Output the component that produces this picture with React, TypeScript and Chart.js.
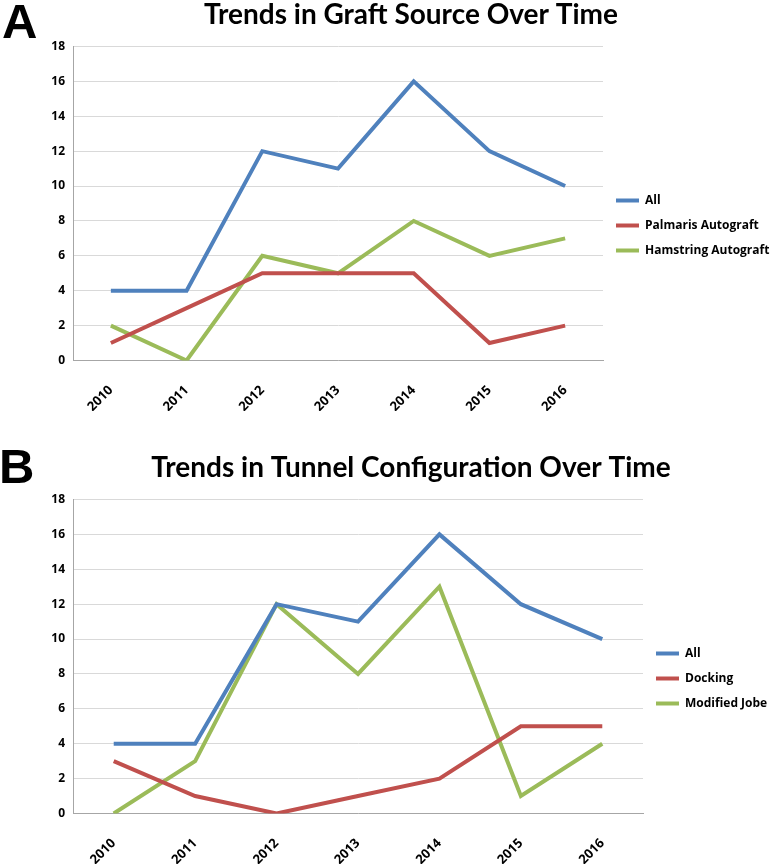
import React, { useEffect, useRef } from "react";
import { Chart, registerables } from "chart.js";

Chart.register(...registerables);

const years = ["2010", "2011", "2012", "2013", "2014", "2015", "2016"];
const yTicksMax = 18;
const yTickStep = 2;

const titleA = "Trends in Graft Source Over Time";
const allA = [4, 4, 12, 11, 16, 12, 10];
const palmarisA = [1, 3, 5, 5, 5, 1, 2];
const hamstringA = [2, 0, 6, 5, 8, 6, 7];

const titleB = "Trends in Tunnel Configuration Over Time";
const allB = [4, 4, 12, 11, 16, 12, 10];
const dockingB = [3, 1, 0, 1, 2, 5, 5];
const jobeB = [0, 3, 12, 8, 13, 1, 4];

const BLUE = "#4F81BD";
const RED = "#C0504D";
const GREEN = "#9BBB59";
const TITLE_FONT = "Lato, 'Open Sans', sans-serif";
const FONT = "'Open Sans', Lato, sans-serif";

type Series = { label: string; data: number[]; color: string };

function Panel(props: {
  top: number;
  height: number;
  title: string;
  letter: string;
  letterTop: number;
  letterLeft: number;
  legendWidth: number;
  series: Series[];
}) {
  const ref = useRef<HTMLCanvasElement | null>(null);
  useEffect(() => {
    if (!ref.current) return;
    const chart = new Chart(ref.current, {
      type: "line",
      data: {
        labels: years,
        datasets: props.series.map((s) => ({
          label: s.label,
          data: s.data,
          borderColor: s.color,
          backgroundColor: s.color,
          borderWidth: 4,
          pointRadius: 0,
          tension: 0,
        })),
      },
      options: {
        animation: false,
        responsive: false,
        maintainAspectRatio: false,
        layout: { padding: { left: 49, right: 0, top: 0, bottom: 0 } },
        plugins: {
          title: {
            display: true,
            text: props.title,
            color: "#000",
            font: { family: TITLE_FONT, size: 28, weight: "bold", lineHeight: 1 },
            padding: { top: 0.5, bottom: 18 },
          },
          legend: {
            position: "right",
            align: "start",
            maxWidth: props.legendWidth,
            title: {
              display: true,
              text: "",
              font: { size: 1, lineHeight: 1 },
              padding: { top: 180.5, bottom: 0 },
            },
            labels: {
              usePointStyle: true,
              pointStyle: "line",
              pointStyleWidth: 23,
              color: "#000",
              padding: 13,
              font: { family: FONT, size: 12, weight: "bold" },
            },
          },
          tooltip: { enabled: false },
        },
        scales: {
          x: {
            offset: true,
            afterFit: (scale: any) => {
              scale.height = 50.5;
            },
            grid: { display: false, drawTicks: false },
            border: { color: "#a6a6a6", width: 1 },
            ticks: {
              color: "#000",
              font: { family: FONT, size: 13, weight: "bold" },
              minRotation: 45,
              maxRotation: 45,
              autoSkip: false,
              padding: 22,
            },
          },
          y: {
            min: 0,
            max: yTicksMax,
            afterFit: (scale: any) => {
              scale.width = 24;
            },
            grid: { color: "#d9d9d9", drawTicks: false },
            border: { color: "#a6a6a6", width: 1 },
            ticks: {
              stepSize: yTickStep,
              color: "#000",
              font: { family: FONT, size: 12, weight: "bold" },
              padding: 8,
            },
          },
        },
      },
    });
    return () => chart.destroy();
  }, []);
  return (
    <div style={{ position: "absolute", left: 0, top: props.top, width: 773, height: props.height }}>
      <canvas ref={ref} width={773} height={props.height} style={{ display: "block" }} />
      <div
        style={{
          position: "absolute",
          left: props.letterLeft,
          top: props.letterTop,
          fontFamily: "'Liberation Sans', Arial, sans-serif",
          fontWeight: "bold",
          fontSize: 49,
          lineHeight: "49px",
          color: "#000",
        }}
      >
        {props.letter}
      </div>
    </div>
  );
}

export default function App() {
  useEffect(() => {
    document.body.style.margin = "0";
  }, []);
  return (
    <div style={{ position: "relative", width: 773, height: 864, background: "#fff", overflow: "hidden" }}>
      <Panel
        top={0}
        height={411}
        title={titleA}
        letter="A"
        letterTop={-3}
        letterLeft={2}
        legendWidth={170}
        series={[
          { label: "All", data: allA, color: BLUE },
          { label: "Palmaris Autograft", data: palmarisA, color: RED },
          { label: "Hamstring Autograft", data: hamstringA, color: GREEN },
        ]}
      />
      <Panel
        top={453}
        height={411}
        title={titleB}
        letter="B"
        letterTop={-11}
        letterLeft={-1}
        legendWidth={130}
        series={[
          { label: "All", data: allB, color: BLUE },
          { label: "Docking", data: dockingB, color: RED },
          { label: "Modified Jobe", data: jobeB, color: GREEN },
        ]}
      />
    </div>
  );
}
